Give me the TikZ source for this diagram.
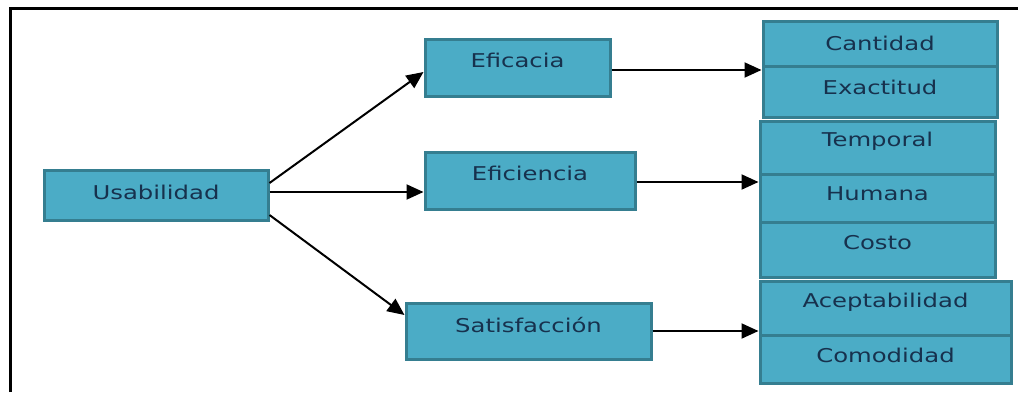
\documentclass[tikz,border=0pt]{standalone}
\usepackage{fontspec}
\newfontfamily\boxfont[FakeStretch=1.28]{DejaVu Sans}
\usetikzlibrary{arrows.meta,shadows}
\definecolor{boxfill}{HTML}{4BACC6}
\definecolor{boxline}{HTML}{357E90}
\definecolor{boxshadow}{HTML}{2A5C6A}
\definecolor{boxtext}{HTML}{17314D}
\tikzset{
  box/.style={draw=boxline, line width=3pt, fill=boxfill, rectangle, inner sep=0pt,
    drop shadow={shadow xshift=0.8pt, shadow yshift=-2.2pt, fill=boxshadow, opacity=1}},
  boxtxt/.style={text=boxtext, font=\boxfont\fontsize{19}{21}\selectfont, inner sep=0pt},
  conn/.style={line width=2pt, -{Triangle[length=17pt,width=15pt]}, shorten >=0pt},
  frame/.style={line width=3pt, black}
}
\begin{document}
\begin{tikzpicture}[x=1pt,y=-1pt]
\useasboundingbox (0,0) rectangle (1018,392);
\draw[frame] (10,392) -- (10,8) -- (1018,8);
% main column
\node[box, minimum width=224pt, minimum height=50pt, label={[boxtxt,yshift=3pt]center:Usabilidad}] (usab) at (156,195) {};
\node[box, minimum width=185pt, minimum height=57pt, label={[boxtxt,yshift=7.5pt]center:Eficacia}] (efic) at (517.5,67.5) {};
\node[box, minimum width=210pt, minimum height=57pt, label={[boxtxt,yshift=7.5pt]center:Eficiencia}] (efie) at (530,180.5) {};
\node[box, minimum width=245pt, minimum height=56pt, label={[boxtxt,yshift=6pt]center:Satisfacción}] (sati) at (528.5,331) {};
% right groups
\node[box, minimum width=234pt, minimum height=45pt, label={[boxtxt,yshift=0pt]center:Cantidad}] (cant) at (880,43.5) {};
\node[box, minimum width=234pt, minimum height=51pt, label={[boxtxt,yshift=4.5pt]center:Exactitud}] (exac) at (880,91.5) {};
\node[box, minimum width=235pt, minimum height=53pt, label={[boxtxt,yshift=6.5pt]center:Temporal}] (temp) at (877.5,147.5) {};
\node[box, minimum width=235pt, minimum height=48pt, label={[boxtxt,yshift=4pt]center:Humana}] (huma) at (877.5,198) {};
\node[box, minimum width=235pt, minimum height=55pt, label={[boxtxt,yshift=6.5pt]center:Costo}] (cost) at (877.5,249.5) {};
\node[box, minimum width=251pt, minimum height=54pt, label={[boxtxt,yshift=6pt]center:Aceptabilidad}] (acep) at (885.5,308) {};
\node[box, minimum width=251pt, minimum height=48pt, label={[boxtxt,yshift=4pt]center:Comodidad}] (como) at (885.5,359) {};
% connectors
\draw[conn] (usab.east |- 0,183) -- (efic.west |- 0,72);
\draw[conn] (usab.east |- 0,192) -- (efie.west |- 0,192);
\draw[conn] (usab.east |- 0,215) -- (sati.west |- 0,315);
\draw[conn] (efic.east |- 0,70) -- (cant.west |- 0,70);
\draw[conn] (efie.east |- 0,182) -- (huma.west |- 0,182);
\draw[conn] (sati.east |- 0,331) -- (acep.west |- 0,331);
\end{tikzpicture}
\end{document}
